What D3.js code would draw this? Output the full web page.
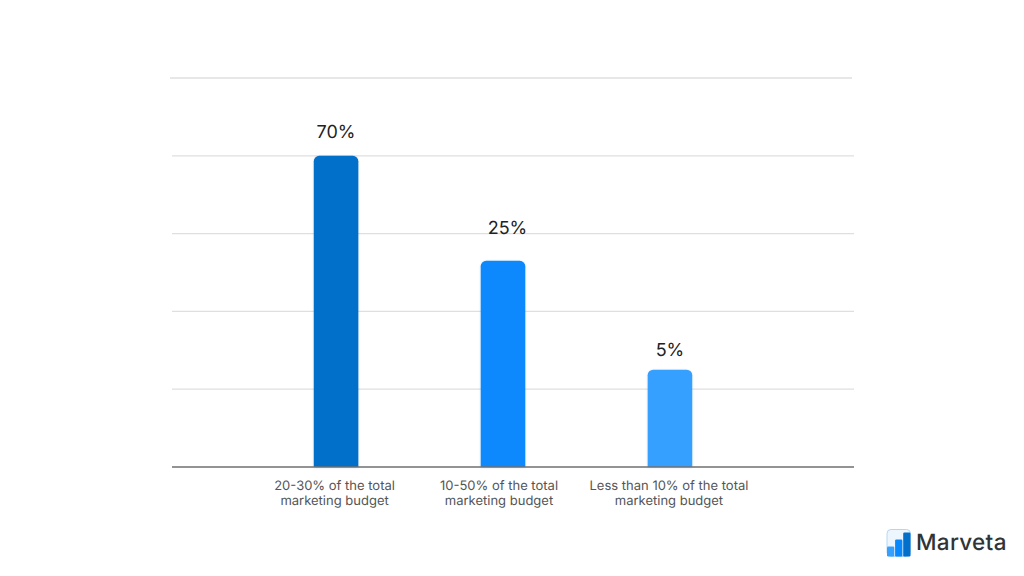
<!DOCTYPE html>
<html>
<head>
<meta charset="utf-8">
<script src="https://cdn.jsdelivr.net/npm/d3@7"></script>
<style>
	html, body { margin: 0; padding: 0; background: #fff; }
	svg { display: block; }
	text { font-family: Inter, "Noto Sans", sans-serif; text-rendering: geometricPrecision; }
</style>
</head>
<body>
<svg id="chart"></svg>
<script>
const categories = [ '20-30% of the total|marketing budget', '10-50% of the total|marketing budget', 'Less than 10% of the total|marketing budget' ] ;
// the bars in the picture are not in proportion to their labels, so both are kept
const barLevels = [ 80, 53, 25 ] ;
const valueLabels = [ '70%', '25%', '5%' ] ;
const colours = [ '#026fca', '#0788fd', '#36a0ff' ] ;
const gridTicks = [ 20, 40, 60, 80, 100 ] ;
const logoNames = [ 'low', 'mid', 'high' ] ;
const logoLevels = [ 10, 17, 24 ] ;
const logoName = 'Marveta' ;

const geom = { width: 1024, height: 576, left: 172, right: 854, top: 78, bottom: 467, bandLeft: 252.5, bandRight: 753.5 } ;

const svg = d3.select( '#chart' )
	.attr( 'width', geom.width )
	.attr( 'height', geom.height ) ;

const defs = svg.append( 'defs' ) ;
const shadow = defs.append( 'filter' ).attr( 'id', 'barShadow' )
	.attr( 'x', '-20%' ).attr( 'y', '-5%' ).attr( 'width', '140%' ).attr( 'height', '110%' ) ;
shadow.append( 'feDropShadow' )
	.attr( 'dx', 0 ).attr( 'dy', 0.5 ).attr( 'stdDeviation', 1 )
	.attr( 'flood-color', '#000' ).attr( 'flood-opacity', 0.15 ) ;

const x = d3.scaleBand()
	.domain( categories )
	.range( [ geom.bandLeft, geom.bandRight ] )
	.paddingInner( 0.733 )
	.paddingOuter( 0.367 ) ;

const y = d3.scaleLinear()
	.domain( [ 0, 100 ] )
	.range( [ geom.bottom, geom.top ] ) ;

// gridlines, the top one sits 2px further left in the reference
svg.append( 'g' )
	.selectAll( 'line' )
	.data( gridTicks )
	.enter()
	.append( 'line' )
	.attr( 'x1', d => d == 100 ? geom.left - 2 : geom.left )
	.attr( 'x2', d => d == 100 ? geom.right - 2 : geom.right )
	.attr( 'y1', d => y(d) )
	.attr( 'y2', d => y(d) )
	.attr( 'stroke', '#dfdfdf' )
	.attr( 'stroke-width', d => d == 100 ? 1.5 : 1.2 ) ;

// bars, rounded at the top only
const r = 5.5 ;
svg.append( 'g' )
	.selectAll( 'path' )
	.data( categories )
	.enter()
	.append( 'path' )
	.attr( 'd', (d,i) => {
		let path = d3.path() ;
		let x0 = x(d), x1 = x(d) + x.bandwidth(), y0 = y(barLevels[i]), y1 = y(0) ;
		path.moveTo( x0, y1 ) ;
		path.lineTo( x0, y0 + r ) ;
		path.arcTo( x0, y0, x0 + r, y0, r ) ;
		path.lineTo( x1 - r, y0 ) ;
		path.arcTo( x1, y0, x1, y0 + r, r ) ;
		path.lineTo( x1, y1 ) ;
		path.closePath() ;
		return path.toString() ;
	})
	.attr( 'fill', (d,i) => colours[i] )
	.attr( 'filter', 'url(#barShadow)' ) ;

// value labels
const labelShift = [ 0, 4.5, 0 ] ;
const labelGap = [ 18, 27, 14 ] ;
svg.append( 'g' )
	.selectAll( 'text' )
	.data( valueLabels )
	.enter()
	.append( 'text' )
	.attr( 'x', (d,i) => x(categories[i]) + x.bandwidth() / 2 + labelShift[i] )
	.attr( 'y', (d,i) => y(barLevels[i]) - labelGap[i] )
	.attr( 'text-anchor', 'middle' )
	.attr( 'font-size', 18 )
	.attr( 'fill', '#222' )
	.text( d => d ) ;

// baseline and category labels through the axis
const tickShift = [ -1.5, -4, -1 ] ;
const axis = svg.append( 'g' )
	.attr( 'transform', 'translate(0 ' + geom.bottom + ')' )
	.call( d3.axisBottom(x).tickSize(0).tickPadding(0) ) ;

axis.select( '.domain' ).remove() ;
axis.append( 'line' )
	.attr( 'x1', geom.left )
	.attr( 'x2', geom.right )
	.attr( 'stroke', '#6f6f6f' )
	.attr( 'stroke-width', 1.3 ) ;

axis.selectAll( '.tick text' ).each( function(d,i) {
	let t = d3.select(this).text( null )
		.attr( 'font-size', 13 )
		.attr( 'font-family', 'Inter, sans-serif' )
		.attr( 'fill', '#555' ) ;
	d.split( '|' ).forEach( (part,j) => {
		t.append( 'tspan' )
			.attr( 'x', tickShift[i] )
			.attr( 'y', 23 + j * 15 )
			.attr( 'dy', 0 )
			.text( part ) ;
	}) ;
}) ;

// logo
const logo = svg.append( 'g' ).attr( 'transform', 'translate(886 529)' ) ;
logo.append( 'rect' )
	.attr( 'x', 1 ).attr( 'y', 0.5 )
	.attr( 'width', 23.5 ).attr( 'height', 27 )
	.attr( 'rx', 4 )
	.attr( 'fill', '#eef6fd' )
	.attr( 'stroke', '#b4d6f3' )
	.attr( 'stroke-width', 1 ) ;

const logoX = d3.scaleBand().domain( logoNames ).range( [ 1, 24.5 ] ).paddingInner( 0.1 ) ;
const logoY = d3.scaleLinear().domain( [ 0, 27 ] ).range( [ 27.5, 0.5 ] ) ;
logo.selectAll( 'rect.logobar' )
	.data( logoNames )
	.enter()
	.append( 'rect' )
	.attr( 'class', 'logobar' )
	.attr( 'x', d => logoX(d) )
	.attr( 'y', (d,i) => logoY(logoLevels[i]) )
	.attr( 'width', logoX.bandwidth() )
	.attr( 'height', (d,i) => logoY(0) - logoY(logoLevels[i]) )
	.attr( 'rx', 1.2 )
	.attr( 'fill', (d,i) => colours[ 2 - i ] ) ;

logo.append( 'text' )
	.attr( 'x', 30 )
	.attr( 'y', 21 )
	.attr( 'font-size', 22.5 )
	.attr( 'letter-spacing', 0.3 )
	.attr( 'font-weight', 500 )
	.attr( 'fill', '#2f3437' )
	.text( logoName ) ;
</script>
</body>
</html>
